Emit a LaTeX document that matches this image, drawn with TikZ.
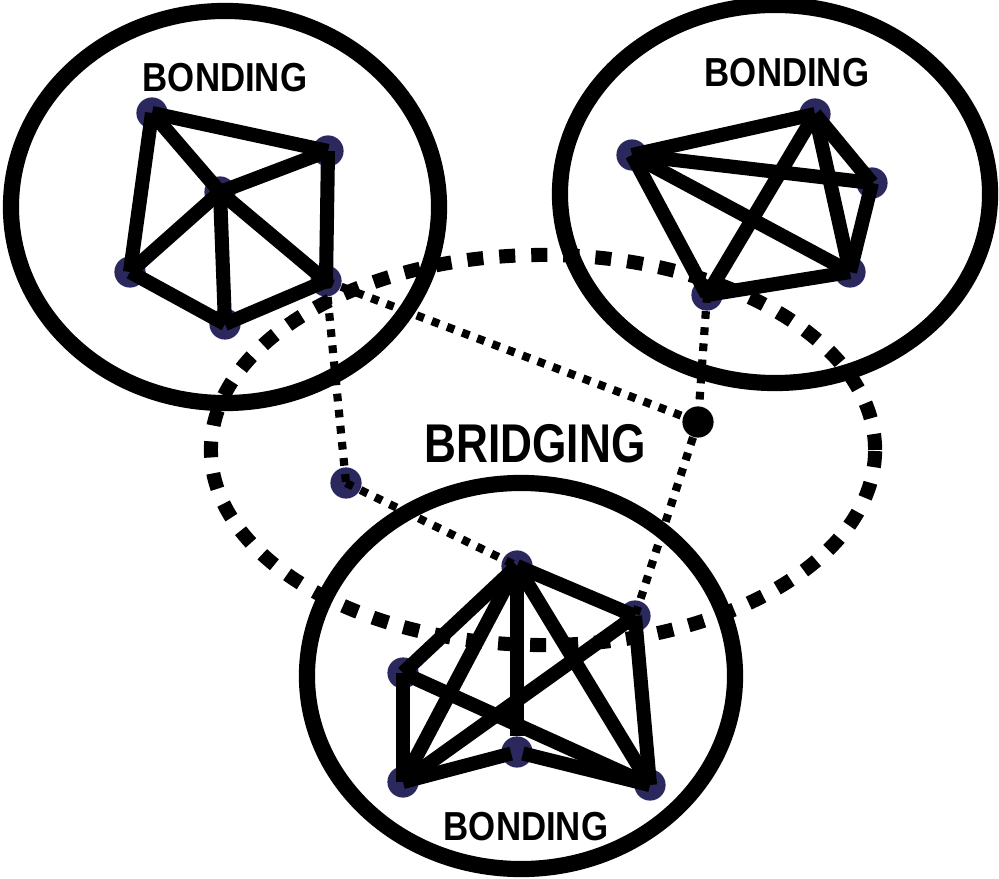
\documentclass[tikz,border=0pt]{standalone}
\usepackage{fontspec}
\newfontfamily\lblfont{Liberation Sans}
\definecolor{vtx}{RGB}{42,40,92}
\begin{document}
\begin{tikzpicture}[x=0.025cm,y=-0.025cm,
  ring/.style={draw=black,line width=11.5pt},
  bridge/.style={draw=black,line width=10pt,dash pattern=on 11.4pt off 11.4pt},
  tie/.style={draw=black,line width=10pt},
  weak/.style={draw=black,line width=5.8pt,dash pattern=on 5.5pt off 6pt},
  dot/.style={fill=vtx},
  lbl/.style={font=\lblfont\bfseries\fontsize{28.8}{30}\selectfont,anchor=base,inner sep=0pt}]
\useasboundingbox (0,0) rectangle (999,879);

% vertices of the upper-left group
\coordinate (a1) at (152,113);
\coordinate (a2) at (328,151);
\coordinate (a3) at (220,192);
\coordinate (a4) at (130,272);
\coordinate (a5) at (225,324);
\coordinate (a6) at (326,281);
% vertices of the upper-right group
\coordinate (b1) at (632,155);
\coordinate (b2) at (815,114);
\coordinate (b3) at (872,183);
\coordinate (b4) at (850,272);
\coordinate (b5) at (707,295);
% vertices of the lower group
\coordinate (c1) at (517,566);
\coordinate (c2) at (635,616);
\coordinate (c3) at (403,673);
\coordinate (c4) at (517,752);
\coordinate (c5) at (403,782);
\coordinate (c6) at (650,785);
% bridging vertices
\coordinate (r1) at (346,483);
\coordinate (s1) at (698,422);

% vertex discs
\foreach \v in {a1,a2,a3,a4,a5,a6,b1,b2,b3,b4,b5,c1,c2,c3,c4,c5,c6,r1}
  \fill[dot] (\v) circle[radius=0.39cm];

% bonding ties, upper-left
\draw[tie] (a1) -- (a2);
\draw[tie] (a1) -- (a4);
\draw[tie] (a1) -- (a3);
\draw[tie] (a3) -- (a2);
\draw[tie] (a2) -- (a6);
\draw[tie] (a3) -- (a4);
\draw[tie] (a3) -- (a5);
\draw[tie] (a3) -- (a6);
\draw[tie] (a4) -- (a5);
\draw[tie] (a5) -- (a6);
% bonding ties, upper-right
\draw[tie] (b1) -- (b2);
\draw[tie] (b1) -- (b3);
\draw[tie] (b1) -- (b4);
\draw[tie] (b1) -- (b5);
\draw[tie] (b2) -- (b3);
\draw[tie] (b2) -- (b4);
\draw[tie] (b2) -- (b5);
\draw[tie] (b3) -- (b4);
\draw[tie] (b4) -- (b5);
% bonding ties, lower
\draw[tie] (c1) -- (c2);
\draw[tie] (c1) -- (c3);
\draw[tie] (c1) -- (c5);
\draw[tie,shorten >=0.4cm] (c1) -- (c4);
\draw[tie] (c1) -- (c6);
\draw[tie] (c2) -- (c5);
\draw[tie] (c2) -- (c6);
\draw[tie] (c3) -- (c5);
\draw[tie] (c3) -- (c6);
\draw[tie,shorten >=0.15cm] (c5) -- (c4);
\draw[tie,shorten <=0.15cm] (c4) -- (c6);

% group outlines
\draw[ring] (225,207) ellipse[x radius=5.35cm,y radius=4.9cm];
\draw[ring] (775,194) ellipse[x radius=5.375cm,y radius=4.725cm];
\draw[ring] (521,676) ellipse[x radius=5.35cm,y radius=4.825cm];

% bridging region
\draw[bridge] (543,450) ellipse[x radius=8.3cm,y radius=4.875cm];

% bridging ties
\draw[weak] (a6) -- (r1);
\draw[weak] (a6) -- (s1);
\draw[weak] (b5) -- (s1);
\draw[weak] (s1) -- (c2);
\draw[weak] (r1) -- (c1);
\fill[black] (s1) circle[radius=0.39cm];

% labels
\node[lbl] (t1) at (225,92) {\scalebox{0.86}[1]{BONDING}};
\node[lbl] (t2) at (787,87) {\scalebox{0.86}[1]{BONDING}};
\node[lbl] (t3) at (526,840) {\scalebox{0.86}[1]{BONDING}};
\node[lbl,font=\lblfont\bfseries\fontsize{38.8}{40}\selectfont] (t4) at (535,462) {\scalebox{0.81}[1]{BRIDGING}};
\end{tikzpicture}
\end{document}
